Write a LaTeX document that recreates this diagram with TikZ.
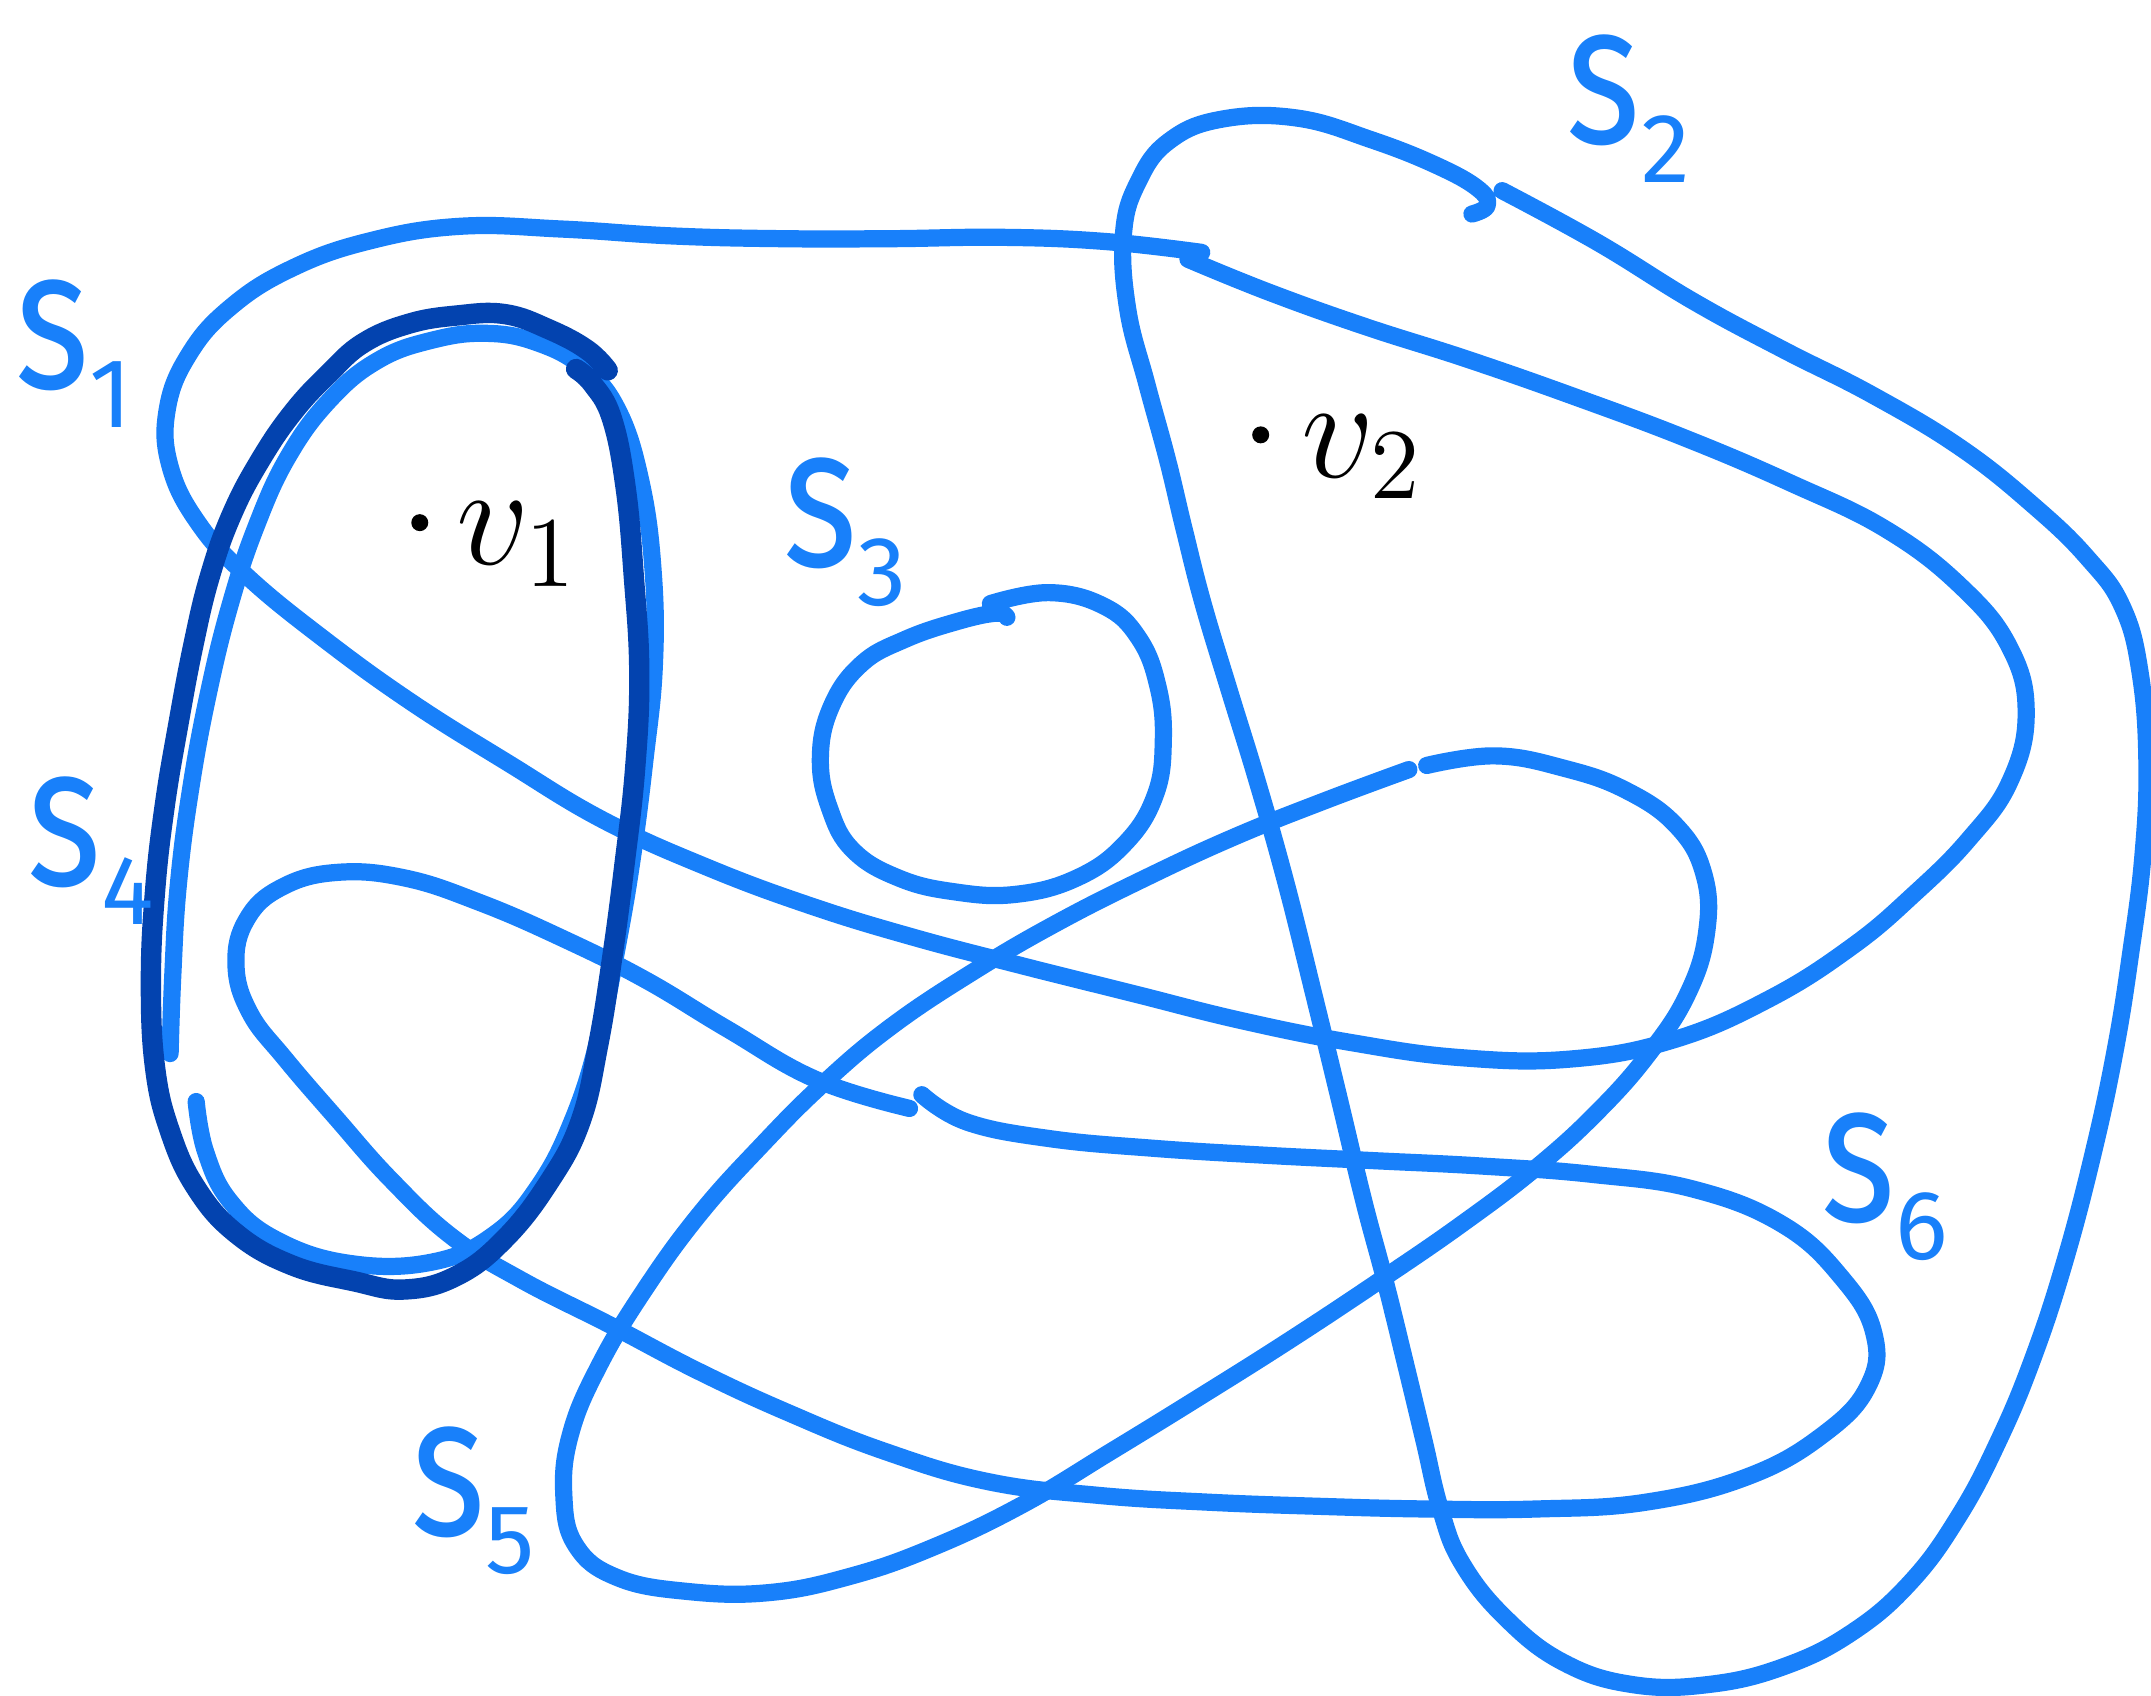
\documentclass[tikz,border=0pt]{standalone}
\usepackage{graphicx}
\usepackage{fontspec}
\newfontfamily\handfont{Fira Sans}
\definecolor{lightb}{RGB}{24,128,250}
\definecolor{darkb}{RGB}{3,67,175}
\tikzset{
  curve/.style={draw=lightb, line width=4.9pt, line cap=round, line join=round},
  darkcurve/.style={draw=darkb, line width=5.8pt, line cap=round, line join=round},
  slabel/.style={text=lightb, font=\handfont\fontsize{41}{41}\selectfont, inner sep=0pt},
  vlabel/.style={text=black, font=\fontsize{20.74}{25}\selectfont, inner sep=0pt},
  vdot/.style={circle, fill=black, inner sep=0pt, minimum size=0.17cm},
}
\newcommand\hs{\scalebox{1.1}[1.4]{s}}
\newcommand\lowdigit[1]{\raisebox{-11pt}{\fontsize{28}{28}\selectfont #1}}
\begin{document}
\begin{tikzpicture}[x=0.013718cm, y=-0.013718cm]
\useasboundingbox (0,0) rectangle (1568,1236);

% s1 big loop
\draw[curve] plot[smooth, tension=0.7] coordinates {(866,189) (925,213) (995,238) (1070,262) (1150,290) (1230,320) (1305,352) (1375,386) (1430,428) (1465,472) (1477,520) (1465,570) (1435,612) (1395,652) (1350,690) (1290,728) (1220,758) (1145,772) (1065,771) (985,760) (905,744) (825,724) (745,704) (665,683) (590,660) (515,632) (440,598) (370,556) (300,512) (235,465) (180,420) (145,382) (124,340) (122,298) (138,258) (168,224) (212,196) (268,176) (335,165) (410,167) (490,172) (570,174) (650,174) (730,173) (805,176) (876,184)};

% s2 loop
\draw[curve] plot[smooth, tension=0.7] coordinates {(1073,156) (1084,150) (1078,138) (1048,121) (1000,102) (945,86) (890,87) (852,103) (830,132) (819,170) (822,225) (836,280) (851,335) (863,385) (877,440) (896,503) (916,568) (937,642) (957,722) (976,800) (994,875) (1010,935) (1025,996) (1038,1050) (1050,1100) (1066,1140) (1098,1180) (1140,1212) (1190,1228) (1245,1228) (1300,1215) (1350,1190) (1393,1153) (1428,1105) (1457,1050) (1482,990) (1505,920) (1526,840) (1542,765) (1553,696) (1562,625) (1565,556) (1560,490) (1547,442) (1522,407) (1484,370) (1430,327) (1365,288) (1300,255) (1235,220) (1165,177) (1095,139)};

% s3 loop
\draw[curve] plot[smooth, tension=0.7] coordinates {(722,440) (765,432) (805,442) (830,465) (844,500) (848,540) (842,580) (820,615) (785,640) (740,652) (695,650) (655,640) (622,620) (605,590) (598,553) (606,515) (628,484) (660,466) (698,453) (726,447) (734,450)};

% s5 loop
\draw[curve] plot[smooth, tension=0.7] coordinates {(1027,561) (965,584) (900,610) (835,640) (770,673) (710,708) (650,748) (600,790) (555,835) (510,885) (470,940) (437,995) (416,1045) (411,1090) (420,1127) (450,1150) (500,1160) (560,1161) (620,1149) (680,1128) (745,1097) (810,1058) (875,1018) (940,977) (1005,934) (1066,892) (1120,851) (1165,810) (1202,768) (1230,725) (1244,680) (1242,637) (1222,602) (1185,576) (1140,560) (1090,551) (1040,558)};

% s6 loop
\draw[curve] plot[smooth, tension=0.7] coordinates {(672,798) (705,818) (765,830) (840,837) (920,842) (1000,846) (1080,850) (1160,856) (1235,867) (1300,893) (1343,932) (1366,972) (1362,1010) (1330,1045) (1275,1076) (1200,1095) (1120,1100) (1040,1100) (960,1098) (880,1095) (800,1090) (720,1080) (645,1058) (575,1030) (510,1000) (445,966) (380,933) (330,902) (285,860) (245,815) (208,772) (182,738) (172,703) (180,670) (205,647) (245,636) (295,640) (350,658) (410,684) (470,714) (530,750) (595,787) (663,808)};

% s4 loop (light, around v1)
\draw[curve] plot[smooth, tension=0.7] coordinates {(143,803) (150,840) (168,876) (202,904) (255,921) (315,920) (360,900) (393,864) (418,815) (436,758) (450,690) (461,625) (470,555) (477,485) (476,415) (467,350) (450,298) (425,268) (392,250) (355,243) (315,248) (275,263) (240,292) (210,333) (187,383) (168,440) (152,505) (139,575) (130,645) (126,710) (124,768)};

% dark loop
\draw[darkcurve] plot[smooth, tension=0.7] coordinates {(443,270) (428,255) (400,240) (368,229) (333,230) (298,236) (265,250) (240,272) (214,300) (190,335) (169,375) (153,420) (141,470) (130,528) (120,588) (113,650) (110,715) (113,778) (124,825) (143,866) (172,899) (212,922) (258,934) (295,940) (333,930) (368,903) (400,862) (423,818) (436,762) (446,700) (455,632) (463,560) (466,490) (462,420) (456,355) (446,305) (432,280) (420,269)};

% points and labels
\node[vdot] (p1) at (306,381) {};
\node[vdot] (p2) at (919,317) {};
\node[vlabel] (v1) at (377,397) {\scalebox{1.98}{$v_1$}};
\node[vlabel] (v2) at (993,333) {\scalebox{1.98}{$v_2$}};

\node[slabel] (s1) at (54,258) {\hs\lowdigit{1}};
\node[slabel] (s2) at (1187,79) {\hs\lowdigit{2}};
\node[slabel] (s3) at (616,388) {\hs\lowdigit{3}};
\node[slabel] (s4) at (66,620) {\hs\lowdigit{4}};
\node[slabel] (s5) at (345,1094) {\hs\lowdigit{5}};
\node[slabel] (s6) at (1374,865) {\hs\lowdigit{6}};
\end{tikzpicture}
\end{document}
